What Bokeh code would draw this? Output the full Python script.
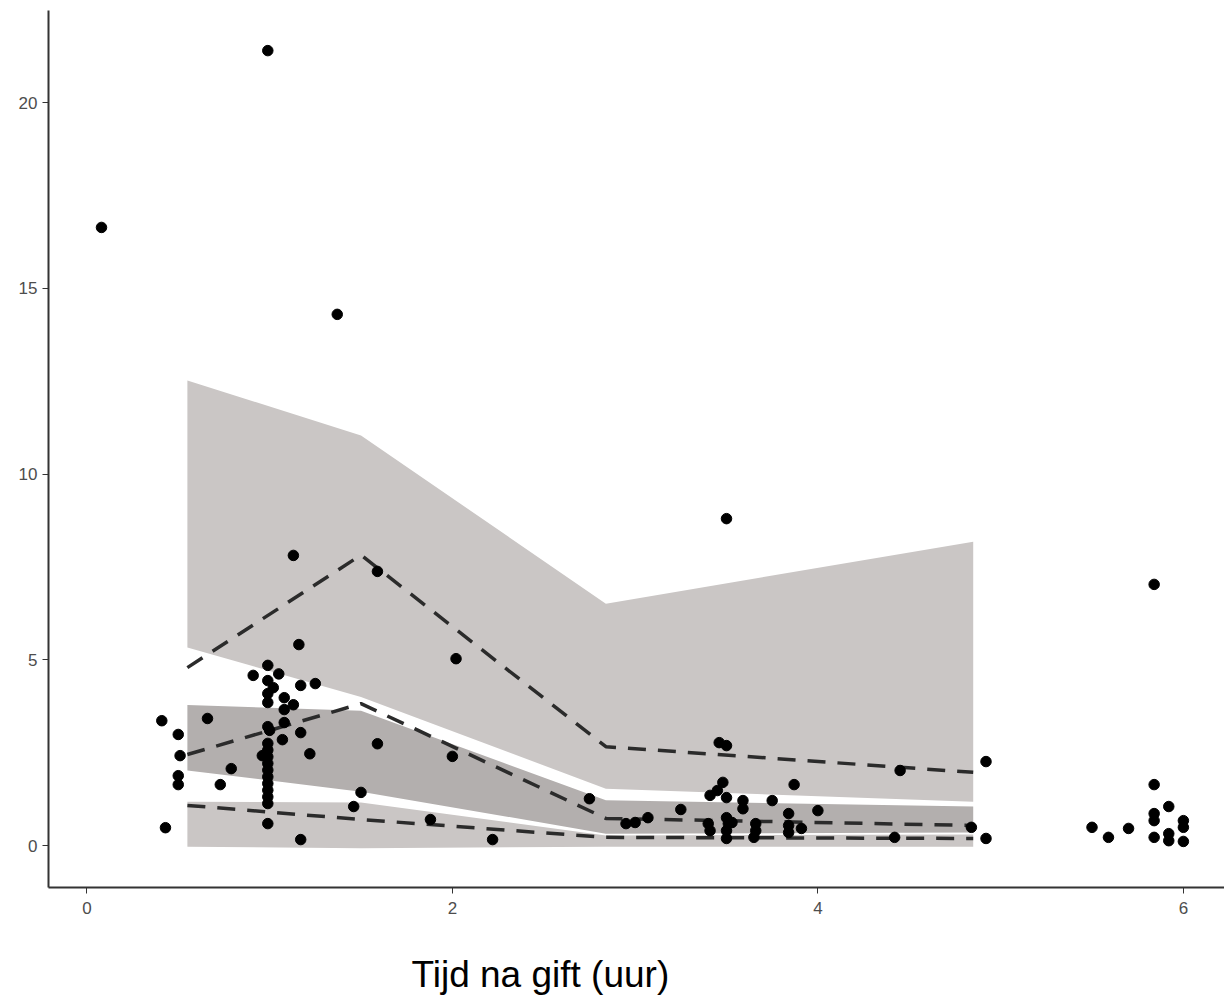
from bokeh.plotting import figure
from bokeh.models import Range1d, FixedTicker, Title
from bokeh.embed import file_html
from bokeh.resources import INLINE

# ---- data ----
time_h = [0.08, 0.99, 1.37, 3.50, 5.84, 1.13, 1.59, 2.02, 1.16, 1.25, 4.92, 4.45,
          0.91, 0.99, 1.05, 0.99, 1.02, 0.99, 0.99, 1.08, 1.13, 1.08, 1.17, 1.08,
          1.17, 0.99, 1.00, 1.07, 1.22, 0.96,
          0.99, 0.99, 0.99, 0.99, 0.99, 0.99, 0.99, 0.99, 0.99, 0.99,
          0.99, 1.17, 0.41, 0.66, 0.50, 0.51, 0.79, 0.50, 0.50, 0.73, 0.43,
          1.59, 2.00, 1.50, 1.46, 1.88, 2.22, 2.75, 2.95,
          3.48, 3.87, 3.41, 3.45, 3.50, 3.59, 3.59, 3.75, 3.25, 3.84, 4.00,
          3.00, 3.07, 3.40, 3.41, 3.50, 3.51, 3.50, 3.50, 3.66, 3.66, 3.65,
          3.84, 3.84, 3.91, 3.53, 4.84, 4.42, 4.92, 3.46, 3.50,
          5.84, 5.92, 5.84, 5.84, 6.00, 6.00, 5.50, 5.59, 5.70, 5.84, 5.92, 5.92, 6.00]
conc = [16.64, 21.40, 14.30, 8.80, 7.03, 7.81, 7.38, 5.03, 5.41, 4.36, 2.26, 2.02,
        4.58, 4.85, 4.62, 4.44, 4.25, 4.09, 3.85, 3.98, 3.79, 3.66, 4.31, 3.31,
        3.04, 3.20, 3.10, 2.85, 2.47, 2.42,
        2.75, 2.57, 2.39, 2.21, 2.03, 1.85, 1.67, 1.49, 1.31, 1.13,
        0.59, 0.16, 3.36, 3.42, 2.99, 2.42, 2.07, 1.88, 1.64, 1.64, 0.48,
        2.74, 2.40, 1.43, 1.05, 0.70, 0.16, 1.26, 0.59,
        1.70, 1.64, 1.35, 1.48, 1.29, 1.21, 0.99, 1.21, 0.97, 0.86, 0.94,
        0.62, 0.75, 0.59, 0.40, 0.75, 0.59, 0.40, 0.19, 0.59, 0.40, 0.22,
        0.54, 0.35, 0.46, 0.62, 0.49, 0.22, 0.19, 2.77, 2.69,
        1.64, 1.05, 0.86, 0.67, 0.67, 0.49, 0.49, 0.22, 0.46, 0.22, 0.32, 0.13, 0.11]

bin_time = [0.55, 1.50, 2.84, 4.85]
upper_hi = [12.52, 11.04, 6.51, 8.18]
upper_lo = [5.33, 4.00, 1.53, 1.18]
mid_hi = [3.78, 3.63, 1.22, 1.05]
mid_lo = [2.02, 1.45, 0.32, 0.35]
low_hi = [1.18, 1.16, 0.27, 0.30]
low_lo = [-0.03, -0.07, -0.03, -0.03]

upper_median = [4.79, 7.82, 2.66, 1.97]
mid_median = [2.45, 3.82, 0.73, 0.54]
low_median = [1.08, 0.70, 0.22, 0.19]

x_ticks = [0, 2, 4, 6]
y_ticks = [0, 5, 10, 15, 20]
x_title = "Tijd na gift (uur)"

# ---- figure ----
p = figure(width=1224, height=999, output_backend="svg", toolbar_location=None,
           x_range=Range1d(-0.21, 6.225), y_range=Range1d(-1.13, 22.48),
           min_border_left=48, min_border_right=0, min_border_top=10,
           min_border_bottom=112)
p.outline_line_color = None
p.xgrid.visible = False
p.ygrid.visible = False
p.background_fill_color = "white"
p.border_fill_color = "white"

light = "#cac6c5"
dark = "#b3afae"
p.varea(x=bin_time, y1=upper_lo, y2=upper_hi, fill_color=light)
p.varea(x=bin_time, y1=low_lo, y2=low_hi, fill_color=light)
p.varea(x=bin_time, y1=mid_lo, y2=mid_hi, fill_color=dark)

for med in (upper_median, mid_median, low_median):
    p.line(x=bin_time, y=med, line_color="#2b2b2b", line_width=3.5,
           line_dash="18 12")

p.scatter(x=time_h, y=conc, size=10.5, fill_color="black", line_color="black")

for ax in (p.xaxis[0], p.yaxis[0]):
    ax.axis_line_color = "#333333"
    ax.axis_line_width = 2
    ax.major_tick_line_color = "#333333"
    ax.major_tick_line_width = 1
    ax.major_tick_out = 6
    ax.major_tick_in = 0
    ax.minor_tick_line_color = None
    ax.major_label_text_color = "#4d4d4d"
    ax.major_label_text_font = "Liberation Sans"
    ax.major_label_text_font_size = "17px"

p.xaxis.ticker = FixedTicker(ticks=x_ticks)
p.yaxis.ticker = FixedTicker(ticks=y_ticks)
p.xaxis.major_label_standoff = 8
p.yaxis.major_label_standoff = 5

# blank axis label used only as vertical spacing before the title
p.xaxis.axis_label = " "
p.xaxis.axis_label_text_font_size = "10px"
p.xaxis.axis_label_standoff = 21

t = Title(text=x_title, align="left", offset=363, text_font="Liberation Sans",
          text_font_size="37px", text_font_style="normal", text_color="black",
          standoff=0)
p.add_layout(t, "below")

open("out.html", "w").write(file_html(p, INLINE))
